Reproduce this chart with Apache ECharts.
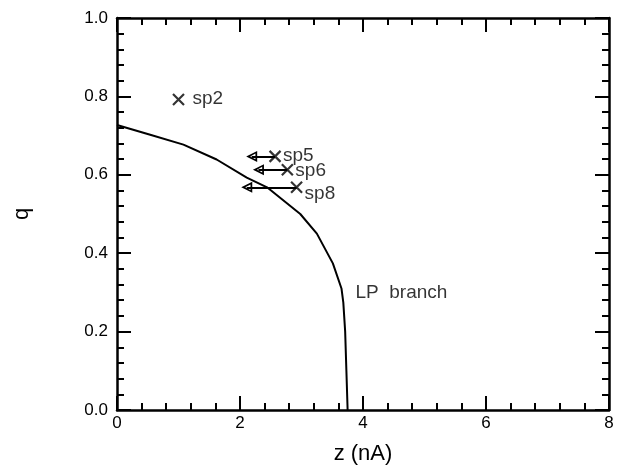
<!DOCTYPE html>
<html>
<head>
<meta charset="utf-8">
<script src="https://cdn.jsdelivr.net/npm/echarts@6/dist/echarts.min.js"></script>
<style>
html,body{margin:0;padding:0;background:#fff;}
#chart{width:618px;height:470px;}
</style>
</head>
<body>
<div id="chart"></div>
<script>
// LP branch curve
const curveZ = [0, 0.54, 1.08, 1.62, 2.11, 2.44, 2.98, 3.25, 3.51, 3.65, 3.68, 3.71, 3.73, 3.75];
const curveQ = [0.727, 0.702, 0.677, 0.639, 0.593, 0.568, 0.50, 0.45, 0.374, 0.31, 0.274, 0.2, 0.1, 0.0];

// Sample points (X markers)
const pointNames = ['sp2', 'sp5', 'sp6', 'sp8'];
const pointZ = [1.0, 2.57, 2.77, 2.92];
const pointQ = [0.792, 0.647, 0.613, 0.568];

// Arrows (from point to arrowhead), for sp5, sp6, sp8
const arrowFromZ = [2.57, 2.77, 2.92];
const arrowToZ = [2.19, 2.30, 2.11];
const arrowQ = [0.647, 0.613, 0.568];

// Axis ticks
const xTicks = [0, 2, 4, 6, 8];
const yTicks = [0.0, 0.2, 0.4, 0.6, 0.8, 1.0];

const branchLabel = 'LP  branch';
const branchPos = [3.87, 0.30];

const FONT = 'Liberation Sans, Arial, Helvetica, sans-serif';

const chart = echarts.init(document.getElementById('chart'));

const axisCommon = {
  axisLine: {show: true, onZero: false, lineStyle: {color: '#000', width: 2.5}},
  axisTick: {show: true, inside: true, length: 14, lineStyle: {color: '#000', width: 2}},
  minorTick: {show: true, splitNumber: 5, length: 7, lineStyle: {color: '#000', width: 2}},
  splitLine: {show: false}
};

const xMin = xTicks[0], xMax = xTicks[xTicks.length - 1];
const yMin = yTicks[0], yMax = yTicks[yTicks.length - 1];

// hollow triangle pointing "up" (rotated along the arrow direction by ECharts)
const hollowTri = 'path://M5,0L10,10L0,10Z M5,3.6L2.4,8.4L7.6,8.4Z';

const option = {
  backgroundColor: '#fff',
  animation: false,
  grid: {left: 117, right: 9, top: 18, bottom: 54},
  xAxis: [
    Object.assign({}, axisCommon, {
      type: 'value', position: 'bottom', min: xMin, max: xMax, interval: 2,
      name: 'z (nA)', nameLocation: 'middle', nameGap: 33,
      nameTextStyle: {fontFamily: FONT, fontSize: 22, color: '#000'},
      axisLabel: {show: true, margin: 5, fontFamily: FONT, fontSize: 17, color: '#000'}
    }),
    Object.assign({}, axisCommon, {
      type: 'value', position: 'top', min: xMin, max: xMax, interval: 2,
      axisLabel: {show: false}
    })
  ],
  yAxis: [
    Object.assign({}, axisCommon, {
      type: 'value', position: 'left', min: yMin, max: yMax, interval: 0.2,
      name: 'q', nameLocation: 'middle', nameGap: 84, nameRotate: 90,
      nameTextStyle: {fontFamily: FONT, fontSize: 22, color: '#000'},
      axisLabel: {show: true, margin: 9, fontFamily: FONT, fontSize: 17, color: '#000',
        formatter: v => v.toFixed(1)}
    }),
    Object.assign({}, axisCommon, {
      type: 'value', position: 'right', min: yMin, max: yMax, interval: 0.2,
      axisLabel: {show: false}
    })
  ],
  series: [
    {
      type: 'line',
      data: curveZ.map((z, i) => [z, curveQ[i]]),
      showSymbol: false,
      symbol: 'none',
      lineStyle: {color: '#000', width: 2},
      z: 3
    },
    {
      type: 'lines',
      coordinateSystem: 'cartesian2d',
      symbol: ['none', hollowTri],
      symbolSize: [0, 11],
      lineStyle: {color: '#000', width: 2, opacity: 1},
      data: arrowQ.map((q, i) => ({coords: [[arrowFromZ[i], q], [arrowToZ[i], q]]})),
      z: 4
    },
    {
      type: 'scatter',
      symbol: 'path://M0,0L10,10M10,0L0,10',
      symbolSize: 11,
      itemStyle: {color: 'none', borderColor: '#000', borderWidth: 2.2},
      data: pointNames.map((n, i) => ({
        value: [pointZ[i], pointQ[i]],
        label: {
          show: true, formatter: n, position: 'right',
          distance: n === 'sp2' ? 6 : 0,
          offset: n === 'sp8' ? [0, 6] : (n === 'sp6' ? [0, 1] : [0, -1]),
          fontFamily: FONT, fontSize: 19, color: '#000'
        }
      })),
      z: 5
    },
    {
      type: 'scatter',
      symbol: 'circle',
      symbolSize: 1,
      itemStyle: {color: 'rgba(0,0,0,0)'},
      data: [{
        value: branchPos,
        label: {show: true, formatter: branchLabel, position: 'right', distance: 0,
          fontFamily: FONT, fontSize: 19, color: '#000'}
      }],
      z: 5
    }
  ]
};

chart.setOption(option);
</script>
</body>
</html>
